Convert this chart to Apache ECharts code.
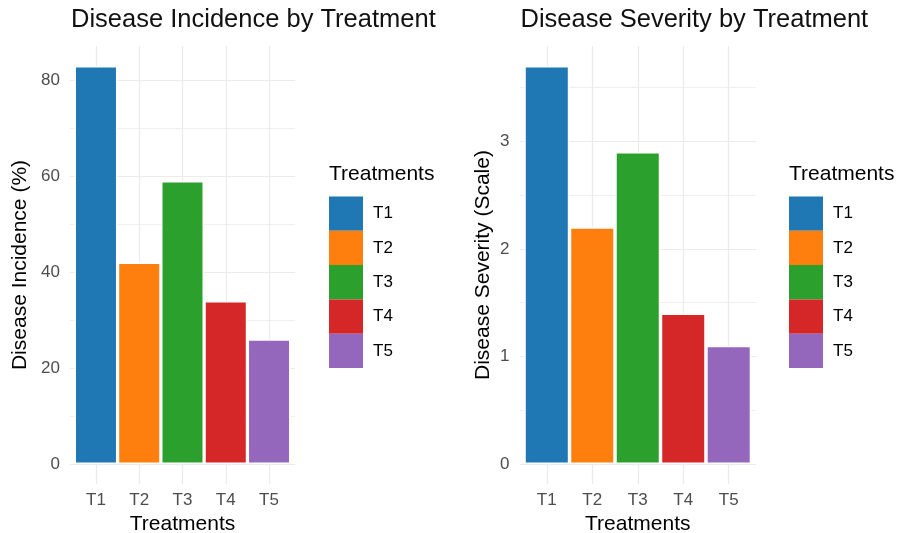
<!DOCTYPE html>
<html>
<head>
<meta charset="utf-8">
<script src="https://cdn.jsdelivr.net/npm/echarts@6/dist/echarts.min.js"></script>
<style>
html,body{margin:0;padding:0;background:#fff;}
#chart{width:899px;height:533px;}
</style>
</head>
<body>
<div id="chart"></div>
<script>
const categories = ['T1', 'T2', 'T3', 'T4', 'T5'];
const incidence = [83, 42, 59, 34, 26];
const severity = [3.7, 2.2, 2.9, 1.4, 1.1];
const palette = ['#1f77b4', '#ff7f0e', '#2ca02c', '#d62728', '#9467bd'];

const FONT = 'Liberation Sans, Arial, Helvetica, sans-serif';
const GRID = '#ebebeb';

const panels = [
  { title: 'Disease Incidence by Treatment', yName: 'Disease Incidence (%)', values: incidence,
    left: 70, width: 225, nameGap: 39, barWidth: 43, legendLeft: 329 },
  { title: 'Disease Severity by Treatment', yName: 'Disease Severity (Scale)', values: severity,
    left: 519.5, width: 236.5, nameGap: 26, barWidth: 45, legendLeft: 789 }
];

const option = {
  backgroundColor: '#ffffff',
  animation: false,
  textStyle: { fontFamily: FONT },
  title: [],
  grid: [],
  xAxis: [],
  yAxis: [],
  legend: [],
  series: []
};

panels.forEach((p, pi) => {
  const vmax = Math.max(...p.values);
  option.title.push({
    text: p.title, left: p.left + 1, top: 7, padding: 0,
    textStyle: { fontSize: 25.5, fontWeight: 'normal', color: '#111', fontFamily: FONT }
  });
  option.title.push({
    text: 'Treatments', left: p.legendLeft, top: 164, padding: 0,
    textStyle: { fontSize: 21, fontWeight: 'normal', color: '#000', fontFamily: FONT }
  });
  option.grid.push({ left: p.left, top: 46, width: p.width, height: 438, containLabel: false, outerBoundsMode: 'none' });
  option.xAxis.push({
    type: 'value', gridIndex: pi,
    min: 1 - 0.6, max: categories.length + 0.6,
    splitNumber: 5,
    axisLine: { show: false }, axisTick: { show: false },
    axisLabel: {
      color: '#4d4d4d', fontSize: 17, margin: 8, fontFamily: FONT,
      showMinLabel: false, showMaxLabel: false,
      formatter: v => (Math.abs(v - Math.round(v)) < 1e-6 && categories[Math.round(v) - 1]) || ''
    },
    splitLine: { show: true, showMinLine: false, showMaxLine: false, lineStyle: { color: GRID, width: 1.2 } },
    name: 'Treatments', nameLocation: 'middle', nameGap: 26,
    nameTextStyle: { fontSize: 21, color: '#000', fontFamily: FONT }
  });
  option.yAxis.push({
    type: 'value', gridIndex: pi,
    min: -0.05 * vmax, max: 1.05 * vmax,
    splitNumber: 5,
    axisLine: { show: false }, axisTick: { show: false },
    axisLabel: {
      color: '#4d4d4d', fontSize: 17, margin: 10, fontFamily: FONT,
      showMinLabel: false, showMaxLabel: false
    },
    splitLine: { show: true, showMinLine: false, showMaxLine: false, lineStyle: { color: GRID, width: 1.2 } },
    minorTick: { show: false, splitNumber: 2 },
    minorSplitLine: { show: true, lineStyle: { color: GRID, width: 0.8 } },
    name: p.yName, nameLocation: 'middle', nameGap: p.nameGap,
    nameTextStyle: { fontSize: 21, color: '#000', fontFamily: FONT }
  });
  option.legend.push({
    orient: 'vertical', left: p.legendLeft, top: 196.5, padding: 0,
    itemWidth: 34, itemHeight: 34.3, itemGap: 0, icon: 'rect',
    data: categories.slice(),
    itemStyle: { borderWidth: 0 },
    textStyle: { fontSize: 17, color: '#000', fontFamily: FONT, padding: [0, 0, 0, 5] },
    selectedMode: false
  });
  categories.forEach((c, i) => {
    option.series.push({
      type: 'bar', name: c, xAxisIndex: pi, yAxisIndex: pi,
      stack: 'panel' + pi, barWidth: p.barWidth,
      data: [[i + 1, p.values[i]]],
      itemStyle: { color: palette[i], borderColor: '#ffffff', borderWidth: 1.5 },
      emphasis: { disabled: true }
    });
  });
});

const chart = echarts.init(document.getElementById('chart'), null, { renderer: 'canvas' });
chart.setOption(option);
</script>
</body>
</html>
